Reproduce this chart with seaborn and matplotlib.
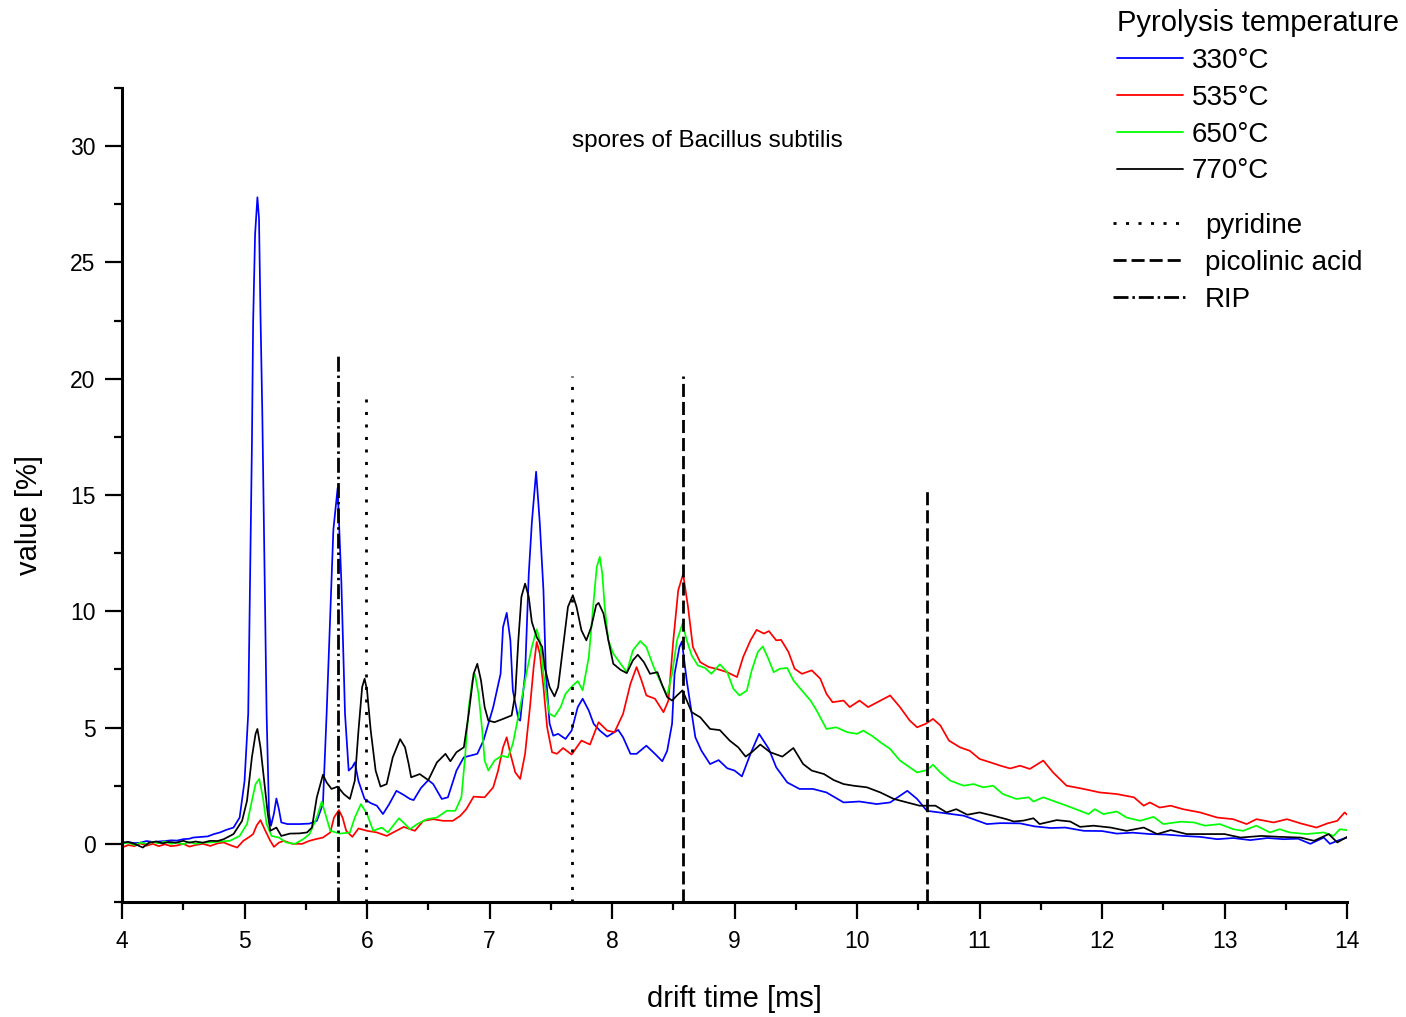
import matplotlib
matplotlib.use("Agg")
import matplotlib.pyplot as plt
from matplotlib.lines import Line2D
from matplotlib.ticker import MultipleLocator
import pandas as pd
import seaborn as sns

# ---- ion mobility spectra (drift time in ms, signal in %) ----
t330 = [4.00, 4.05, 4.10, 4.15, 4.20, 4.25, 4.30, 4.35, 4.40, 4.45, 4.50, 4.55, 4.58, 4.65, 4.70,
        4.75, 4.80, 4.85, 4.91, 4.96, 5.00, 5.03, 5.06, 5.07, 5.086, 5.105, 5.118, 5.13, 5.145,
        5.153, 5.16, 5.18, 5.20, 5.216, 5.24, 5.26, 5.28, 5.30, 5.35, 5.45, 5.53, 5.59, 5.64,
        5.67, 5.70, 5.725, 5.76, 5.79, 5.82, 5.85, 5.88, 5.90, 5.93, 5.98, 6.03, 6.08, 6.13,
        6.18, 6.24, 6.30, 6.35, 6.38, 6.44, 6.50, 6.54, 6.61, 6.66, 6.73, 6.79, 6.85, 6.90,
        6.95, 7.03, 7.09, 7.11, 7.14, 7.17, 7.19, 7.235, 7.25, 7.29, 7.32, 7.345, 7.38, 7.41,
        7.44, 7.46, 7.49, 7.52, 7.56, 7.62, 7.67, 7.72, 7.76, 7.81, 7.85, 7.90, 7.96, 8.05,
        8.09, 8.15, 8.20, 8.28, 8.35, 8.41, 8.45, 8.49, 8.51, 8.55, 8.57, 8.61, 8.68, 8.73,
        8.80, 8.87, 8.94, 9.00, 9.06, 9.13, 9.20, 9.28, 9.34, 9.43, 9.53, 9.64, 9.75, 9.89,
        10.02, 10.16, 10.27, 10.41, 10.49, 10.57, 10.73, 10.87, 11.06, 11.17, 11.33, 11.45,
        11.58, 11.70, 11.85, 12.00, 12.12, 12.25, 12.39, 12.52, 12.66, 12.80, 12.94, 13.07,
        13.21, 13.35, 13.48, 13.60, 13.70, 13.76, 13.81, 13.86, 13.93, 14.00]
v330 = [0.02, 0.08, 0.03, 0.05, 0.12, 0.08, 0.10, 0.12, 0.15, 0.14, 0.20, 0.22, 0.27, 0.30, 0.32,
        0.42, 0.49, 0.60, 0.70, 1.13, 2.7, 5.6, 17.1, 22.4, 26.2, 27.8, 26.9, 22.8, 18.5,
        15.6, 12.8, 5.6, 1.3, 0.78, 1.3, 1.95, 1.5, 0.92, 0.85, 0.85, 0.87, 0.99, 1.72,
        5.6, 9.9, 13.5, 15.3, 11.3, 5.6, 3.15, 3.3, 3.5, 2.7, 1.93, 1.75, 1.64, 1.28,
        1.7, 2.28, 2.1, 1.93, 1.88, 2.4, 2.74, 2.57, 1.93, 2.0, 3.15, 3.72, 3.8, 3.87,
        4.44, 5.88, 7.31, 9.32, 9.93, 8.75, 6.6, 5.37, 5.3, 7.3, 11.6, 13.8, 16.0, 13.8,
        10.9, 7.3, 5.17, 4.65, 4.73, 4.51, 4.87, 5.88, 6.24, 5.73, 5.16, 4.87, 4.61, 4.9,
        4.58, 3.87, 3.87, 4.22, 3.87, 3.55, 4.0, 5.17, 7.3, 8.46, 8.7, 7.0, 4.58, 4.0,
        3.43, 3.6, 3.25, 3.15, 2.9, 3.87, 4.73, 4.08, 3.29, 2.64, 2.36, 2.36, 2.21, 1.78,
        1.82, 1.71, 1.78, 2.28, 1.93, 1.42, 1.31, 1.21, 0.85, 0.89, 0.88, 0.75,
        0.68, 0.70, 0.56, 0.55, 0.44, 0.48, 0.42, 0.40, 0.34, 0.30, 0.20, 0.25,
        0.16, 0.25, 0.20, 0.22, 0.0, 0.15, 0.27, 0.0, 0.15, 0.27]

t535 = [4.00, 4.05, 4.10, 4.15, 4.20, 4.25, 4.30, 4.35, 4.40, 4.45, 4.50, 4.55, 4.60, 4.66, 4.72,
        4.78, 4.83, 4.88, 4.94, 4.99, 5.04, 5.07, 5.10, 5.13, 5.17, 5.21, 5.24, 5.28, 5.32,
        5.39, 5.47, 5.53, 5.58, 5.64, 5.70, 5.73, 5.77, 5.80, 5.83, 5.88, 5.93, 6.00, 6.08,
        6.16, 6.24, 6.30, 6.35, 6.39, 6.46, 6.54, 6.62, 6.70, 6.76, 6.81, 6.87, 6.96, 7.03,
        7.07, 7.11, 7.14, 7.17, 7.21, 7.25, 7.29, 7.33, 7.36, 7.385, 7.41, 7.44, 7.47, 7.51,
        7.55, 7.60, 7.67, 7.75, 7.82, 7.89, 7.96, 8.02, 8.09, 8.15, 8.20, 8.24, 8.28, 8.35,
        8.42, 8.46, 8.50, 8.54, 8.58, 8.62, 8.66, 8.72, 8.79, 8.85, 8.94, 9.02, 9.07, 9.13,
        9.18, 9.24, 9.28, 9.34, 9.38, 9.44, 9.49, 9.55, 9.63, 9.70, 9.75, 9.80, 9.89, 9.94,
        10.02, 10.09, 10.19, 10.27, 10.35, 10.43, 10.49, 10.56, 10.62, 10.68, 10.75, 10.84,
        10.92, 11.00, 11.09, 11.17, 11.25, 11.33, 11.41, 11.52, 11.60, 11.71, 11.85, 11.98,
        12.12, 12.26, 12.34, 12.39, 12.47, 12.56, 12.66, 12.80, 12.94, 13.07, 13.18, 13.26,
        13.40, 13.51, 13.62, 13.75, 13.84, 13.92, 13.98, 14.00]
v535 = [-0.16, -0.05, -0.10, 0.02, -0.08, 0.0, -0.10, -0.02, -0.10, -0.07, 0.0, -0.12, -0.05, 0.0,
        -0.09, 0.02, 0.06, -0.05, -0.16, 0.13, 0.30, 0.42, 0.80, 1.02, 0.56, 0.13, -0.13, 0.05,
        0.13, 0.0, 0.0, 0.13, 0.20, 0.27, 0.49, 1.13, 1.45, 1.13, 0.56, 0.30, 0.66, 0.56, 0.49,
        0.34, 0.56, 0.73, 0.63, 0.56, 0.99, 1.06, 0.99, 0.99, 1.2, 1.49, 2.03, 2.0, 2.43,
        3.15, 4.15, 4.58, 3.87, 3.07, 2.79, 3.87, 5.88, 7.6, 8.68, 8.18, 6.74, 5.01, 3.94,
        3.87, 4.12, 3.84, 4.44, 4.27, 5.23, 4.87, 4.8, 5.59, 6.88, 7.6, 7.03, 6.38, 6.24,
        5.66, 6.16, 8.75, 10.9, 11.6, 10.19, 8.46, 7.81, 7.6, 7.53, 7.38, 7.17, 8.03, 8.75,
        9.2, 9.04, 9.15, 8.75, 8.77, 8.25, 7.53, 7.31, 7.46, 7.1, 6.45, 6.09, 6.16, 5.88,
        6.16, 5.88, 6.16, 6.38, 5.88, 5.3, 5.01, 5.16, 5.37, 5.09, 4.44, 4.15,
        4.0, 3.65, 3.5, 3.36, 3.24, 3.36, 3.22, 3.58, 3.07, 2.5, 2.36, 2.21,
        2.14, 2.0, 1.64, 1.78, 1.56, 1.64, 1.49, 1.35, 1.13, 1.06, 0.85, 1.06,
        0.92, 1.06, 0.88, 0.70, 0.88, 0.99, 1.35, 1.25]

t650 = [4.00, 4.05, 4.10, 4.15, 4.20, 4.25, 4.30, 4.35, 4.40, 4.45, 4.50, 4.55, 4.60, 4.66, 4.72,
        4.80, 4.88, 4.96, 5.02, 5.06, 5.09, 5.12, 5.15, 5.18, 5.22, 5.28, 5.34, 5.41, 5.48,
        5.53, 5.59, 5.63, 5.66, 5.70, 5.78, 5.86, 5.90, 5.95, 6.00, 6.05, 6.12, 6.17, 6.26,
        6.31, 6.35, 6.41, 6.49, 6.57, 6.65, 6.72, 6.77, 6.80, 6.83, 6.86, 6.88, 6.91, 6.94,
        6.96, 6.99, 7.04, 7.10, 7.15, 7.19, 7.25, 7.30, 7.345, 7.385, 7.41, 7.44, 7.47, 7.49,
        7.53, 7.58, 7.62, 7.68, 7.72, 7.76, 7.81, 7.85, 7.875, 7.90, 7.92, 7.94, 7.97, 8.01,
        8.07, 8.12, 8.17, 8.23, 8.28, 8.34, 8.39, 8.45, 8.49, 8.53, 8.575, 8.61, 8.65, 8.70,
        8.76, 8.81, 8.88, 8.94, 8.99, 9.04, 9.10, 9.14, 9.19, 9.23, 9.27, 9.32, 9.37, 9.43,
        9.48, 9.55, 9.62, 9.67, 9.75, 9.83, 9.92, 10.00, 10.05, 10.12, 10.19, 10.27, 10.35,
        10.43, 10.49, 10.57, 10.62, 10.68, 10.76, 10.87, 10.95, 11.03, 11.11, 11.19, 11.30,
        11.40, 11.44, 11.52, 11.60, 11.71, 11.82, 11.89, 11.94, 12.01, 12.12, 12.20, 12.31,
        12.42, 12.50, 12.64, 12.75, 12.84, 12.96, 13.07, 13.15, 13.26, 13.37, 13.45, 13.53,
        13.67, 13.81, 13.89, 13.94, 14.00]
v650 = [0.0, 0.05, -0.05, 0.05, 0.0, 0.08, 0.02, 0.10, 0.0, 0.05, -0.02, 0.08, 0.0, 0.05, 0.06,
        0.10, 0.13, 0.34, 0.85, 1.85, 2.57, 2.79, 2.0, 0.85, 0.34, 0.27, 0.06, 0.0, 0.20,
        0.42, 1.13, 1.82, 1.28, 0.56, 0.44, 0.49, 1.13, 1.71, 1.28, 0.56, 0.70, 0.49, 1.1,
        0.85, 0.63, 0.85, 1.06, 1.13, 1.42, 1.42, 2.0, 3.72, 5.88, 7.03, 7.31, 6.45, 4.87,
        3.58, 3.15, 3.58, 3.79, 3.72, 4.3, 5.88, 7.31, 8.46, 9.22, 8.75, 7.31, 6.16, 5.59,
        5.47, 5.88, 6.45, 6.81, 7.0, 6.6, 8.03, 10.47, 11.9, 12.34, 11.62, 10.19, 8.75, 8.18,
        7.74, 7.38, 8.32, 8.72, 8.46, 7.6, 7.03, 6.38, 7.31, 8.75, 9.47, 8.75, 8.1, 7.67,
        7.56, 7.31, 7.72, 7.38, 6.67, 6.38, 6.59, 7.46, 8.25, 8.49, 8.03, 7.38, 7.53, 7.56,
        7.03, 6.59, 6.16, 5.73, 4.94, 5.01, 4.8, 4.73, 4.87, 4.65, 4.37, 4.08, 3.58,
        3.29, 3.07, 3.17, 3.4, 3.07, 2.72, 2.5, 2.57, 2.43, 2.5, 2.14, 1.93,
        2.0, 1.82, 2.0, 1.85, 1.64, 1.42, 1.28, 1.49, 1.28, 1.39, 1.13, 0.99,
        1.16, 0.85, 0.95, 0.92, 0.78, 0.85, 0.63, 0.56, 0.78, 0.49, 0.63, 0.49,
        0.42, 0.49, 0.34, 0.63, 0.59]

t770 = [4.00, 4.05, 4.10, 4.17, 4.22, 4.28, 4.33, 4.38, 4.44, 4.50, 4.55, 4.60, 4.66, 4.72, 4.78,
        4.83, 4.91, 4.98, 5.02, 5.06, 5.09, 5.105, 5.13, 5.16, 5.19, 5.21, 5.26, 5.30, 5.37,
        5.45, 5.51, 5.55, 5.59, 5.64, 5.67, 5.71, 5.76, 5.81, 5.86, 5.90, 5.93, 5.96, 5.98,
        6.00, 6.03, 6.07, 6.11, 6.16, 6.21, 6.27, 6.31, 6.34, 6.36, 6.43, 6.50, 6.57, 6.64,
        6.68, 6.73, 6.79, 6.83, 6.87, 6.90, 6.93, 6.96, 6.99, 7.04, 7.11, 7.18, 7.21, 7.235,
        7.26, 7.29, 7.32, 7.345, 7.385, 7.43, 7.45, 7.49, 7.53, 7.56, 7.60, 7.64, 7.68, 7.71,
        7.75, 7.79, 7.83, 7.87, 7.89, 7.93, 7.97, 8.01, 8.07, 8.12, 8.17, 8.21, 8.26, 8.31,
        8.37, 8.41, 8.45, 8.49, 8.53, 8.575, 8.61, 8.65, 8.72, 8.80, 8.88, 8.96, 9.03, 9.09,
        9.14, 9.21, 9.29, 9.39, 9.48, 9.56, 9.63, 9.73, 9.81, 9.89, 9.97, 10.08, 10.19, 10.30,
        10.41, 10.51, 10.64, 10.73, 10.81, 10.90, 11.00, 11.11, 11.22, 11.28, 11.36, 11.44,
        11.49, 11.63, 11.74, 11.82, 11.93, 12.07, 12.20, 12.34, 12.45, 12.56, 12.69, 12.86,
        13.00, 13.13, 13.30, 13.45, 13.62, 13.73, 13.85, 13.92, 14.00]
v770 = [0.05, 0.08, 0.0, -0.16, 0.05, 0.10, 0.02, 0.08, 0.05, 0.13, 0.05, 0.10, 0.05, 0.13, 0.12,
        0.20, 0.42, 0.99, 1.85, 3.72, 4.73, 4.94, 4.15, 2.72, 1.28, 0.56, 0.70, 0.34, 0.44,
        0.45, 0.49, 0.70, 2.0, 2.97, 2.64, 2.36, 2.46, 2.14, 1.93, 2.72, 4.87, 6.74, 7.1,
        6.6, 4.87, 3.15, 2.46, 2.57, 3.72, 4.5, 4.15, 3.43, 2.86, 3.0, 2.74, 3.5, 3.87,
        3.55, 3.94, 4.15, 5.59, 7.31, 7.74, 7.03, 5.88, 5.3, 5.23, 5.37, 5.52, 6.45, 8.75,
        10.62, 11.19, 10.62, 9.54, 8.89, 8.46, 7.6, 6.74, 6.34, 6.74, 8.46, 10.19, 10.69, 10.19,
        9.18, 8.75, 9.32, 10.26, 10.36, 9.9, 8.75, 7.74, 7.48, 7.34, 7.89, 8.13, 7.81, 7.31,
        7.38, 6.81, 6.31, 6.16, 6.38, 6.6, 6.16, 5.66, 5.44, 4.94, 4.89, 4.44, 4.15, 3.75,
        3.94, 4.27, 3.94, 3.75, 4.12, 3.43, 3.15, 3.0, 2.74, 2.57, 2.5, 2.43, 2.21, 1.93,
        1.78, 1.64, 1.64, 1.35, 1.49, 1.25, 1.35, 1.21, 1.06, 0.96, 1.0, 1.1,
        0.85, 1.02, 0.96, 0.73, 0.78, 0.70, 0.56, 0.70, 0.42, 0.59, 0.42, 0.42,
        0.42, 0.27, 0.34, 0.30, 0.27, 0.13, 0.42, 0.06, 0.30]

temperatures = ["330°C", "535°C", "650°C", "770°C"]
colors = ["#0000ff", "#ff0000", "#00ff00", "#000000"]

# reference substance drift times and the height of their marker lines
marker_names = ["RIP", "pyridine", "pyridine", "picolinic acid", "picolinic acid"]
marker_times = [5.76, 5.99, 7.67, 8.58, 10.57]
marker_tops = [21.1, 19.4, 20.1, 20.1, 15.3]
marker_order = ["pyridine", "picolinic acid", "RIP"]

frames = []
for label, t, v in zip(temperatures, [t330, t535, t650, t770], [v330, v535, v650, v770]):
    frames.append(pd.DataFrame({"drift": t, "value": v, "temperature": label}))
spectra = pd.concat(frames, ignore_index=True)

sns.set_theme(style="ticks")
plt.rcParams["font.family"] = ["Liberation Sans", "DejaVu Sans"]
plt.rcParams["text.color"] = "black"
plt.rcParams["axes.labelcolor"] = "black"

fig = plt.figure(figsize=(14.06, 10.17), dpi=100)
ax = fig.add_axes([0.0868, 0.1131, 0.8713, 0.8004])

sns.lineplot(data=spectra, x="drift", y="value", hue="temperature",
             hue_order=temperatures, palette=dict(zip(temperatures, colors)),
             estimator=None, sort=False, linewidth=1.25, legend=False, ax=ax)

ymin, ymax = -2.5, 32.5
marker_styles = {
    "pyridine": (0, (1.1, 3.4)),
    "picolinic acid": (0, (4.7, 1.8)),
    "RIP": (0, (5.4, 1.4, 0.9, 1.4)),
}
for name, t, top in zip(marker_names, marker_times, marker_tops):
    ax.vlines(t, ymin, top, colors="black", linewidth=2.0,
              linestyles=[marker_styles[name]])

ax.set_xlim(4, 14)
ax.set_ylim(ymin, ymax)
ax.xaxis.set_major_locator(MultipleLocator(1))
ax.xaxis.set_minor_locator(MultipleLocator(0.5))
ax.yaxis.set_major_locator(MultipleLocator(5))
ax.yaxis.set_minor_locator(MultipleLocator(2.5))
ax.tick_params(which="major", direction="out", length=12, width=1.6,
               labelsize=16.5, colors="black")
ax.tick_params(axis="x", which="major", pad=8)
ax.tick_params(axis="y", which="major", pad=7)
ax.tick_params(which="minor", direction="out", length=6, width=1.6, colors="black")

sns.despine(ax=ax)
for side in ("left", "bottom"):
    ax.spines[side].set_linewidth(2.2)
    ax.spines[side].set_color("black")

ax.set_xlabel("drift time [ms]", fontsize=21, color="black")
ax.set_ylabel("value [%]", fontsize=21, color="black")
ax.xaxis.set_label_coords(0.5, -0.102)
ax.yaxis.set_label_coords(-0.0645, 0.475)

ax.text(8.78, 30.2, "spores of Bacillus subtilis", ha="center", va="center",
        fontsize=17.5, color="black")

# legends
line_handles = [Line2D([], [], color=c, linewidth=1.3) for c in colors]
leg1 = fig.legend(line_handles, temperatures, title="Pyrolysis temperature",
                  loc="upper left", bbox_to_anchor=(0.7945, 0.991),
                  frameon=False, fontsize=20, title_fontsize=21, alignment="left",
                  borderpad=0, borderaxespad=0, handlelength=2.37,
                  handletextpad=0.32, labelspacing=0.39, labelcolor="black")
leg1.get_title().set_color("black")

marker_handles = [Line2D([], [], color="black", linewidth=2.0,
                         linestyle=marker_styles[n]) for n in marker_order]
leg2 = fig.legend(marker_handles, marker_order, loc="upper left",
                  bbox_to_anchor=(0.7916, 0.7906), frameon=False, fontsize=20,
                  borderpad=0, borderaxespad=0, handlelength=2.6,
                  handletextpad=0.72, labelspacing=0.39, labelcolor="black")

fig.savefig("out.png", dpi=100, facecolor="white")
